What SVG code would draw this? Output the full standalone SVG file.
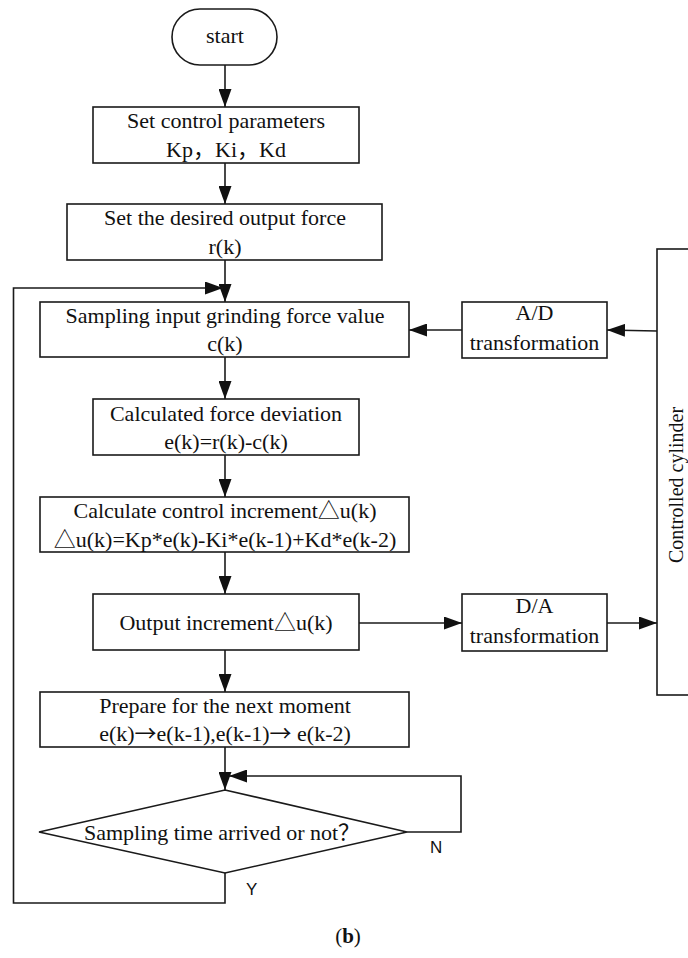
<svg xmlns="http://www.w3.org/2000/svg" width="688" height="958" viewBox="0 0 688 958">
<style>
.box{fill:#fff;stroke:#1a1a1a;stroke-width:1.6}
.ln{fill:none;stroke:#1a1a1a;stroke-width:1.6}
.t{font-family:"Liberation Serif","Times New Roman","Noto Sans CJK SC",serif;font-size:22px;fill:#111;text-anchor:middle}
.cjk{font-family:"Noto Sans CJK SC",sans-serif}
.s{font-family:"Liberation Sans",Arial,sans-serif;font-size:17px;fill:#111}
</style>
<defs>
<marker id="ah" markerUnits="userSpaceOnUse" markerWidth="18" markerHeight="13" refX="18" refY="6.5" orient="auto">
<path d="M0,0 L18,6.5 L0,13 z" fill="#111"/>
</marker>
</defs>
<rect width="688" height="958" fill="#fff"/>
<g id="connectors">
<line class="ln" x1="225" y1="65" x2="225" y2="107" marker-end="url(#ah)"/>
<line class="ln" x1="225" y1="163" x2="225" y2="204" marker-end="url(#ah)"/>
<line class="ln" x1="225" y1="260" x2="225" y2="302" marker-end="url(#ah)"/>
<line class="ln" x1="225" y1="357" x2="225" y2="399" marker-end="url(#ah)"/>
<line class="ln" x1="225" y1="455" x2="225" y2="497" marker-end="url(#ah)"/>
<line class="ln" x1="225" y1="552" x2="225" y2="594" marker-end="url(#ah)"/>
<line class="ln" x1="225" y1="650" x2="225" y2="692" marker-end="url(#ah)"/>
<line class="ln" x1="225" y1="747" x2="225" y2="790" marker-end="url(#ah)"/>
<polyline class="ln" points="225,873 225,903 13.5,903 13.5,288 223,288" marker-end="url(#ah)"/>
<polyline class="ln" points="407,832 461,832 461,776 229,776" marker-end="url(#ah)"/>
<line class="ln" x1="657" y1="331" x2="607" y2="330" marker-end="url(#ah)"/>
<line class="ln" x1="462" y1="330" x2="409" y2="330" marker-end="url(#ah)"/>
<line class="ln" x1="359" y1="623" x2="462" y2="623" marker-end="url(#ah)"/>
<line class="ln" x1="607" y1="623" x2="657" y2="623" marker-end="url(#ah)"/>
<text class="s" x="430" y="853">N</text>
<text class="s" x="246" y="895">Y</text>
</g>
<g id="start">
<rect class="box" x="172" y="9" width="105" height="56" rx="28" ry="28"/>
<text class="t" x="225" y="43">start</text>
</g>
<g id="set-params">
<rect class="box" x="93" y="107" width="266" height="56"/>
<text class="t" x="226" y="128">Set control parameters</text>
<text class="t" x="226" y="157">Kp，Ki，Kd</text>
</g>
<g id="set-force">
<rect class="box" x="67" y="204" width="315" height="56"/>
<text class="t" x="225" y="225">Set the desired output force</text>
<text class="t" x="225" y="254">r(k)</text>
</g>
<g id="sampling">
<rect class="box" x="40" y="302" width="369" height="55"/>
<text class="t" x="225" y="323">Sampling input grinding force value</text>
<text class="t" x="225" y="351">c(k)</text>
</g>
<g id="deviation">
<rect class="box" x="93" y="399" width="266" height="56"/>
<text class="t" x="226" y="421">Calculated force deviation</text>
<text class="t" x="226" y="449">e(k)=r(k)-c(k)</text>
</g>
<g id="increment">
<rect class="box" x="40" y="497" width="369" height="55"/>
<text class="t" x="225" y="518">Calculate control increment△u(k)</text>
<text class="t" x="225" y="547">△u(k)=Kp*e(k)-Ki*e(k-1)+Kd*e(k-2)</text>
</g>
<g id="output">
<rect class="box" x="93" y="594" width="266" height="56"/>
<text class="t" x="226" y="630">Output increment△u(k)</text>
</g>
<g id="prepare">
<rect class="box" x="40" y="692" width="369" height="55"/>
<text class="t" x="225" y="713">Prepare for the next moment</text>
<text class="t" x="225" y="741">e(k)<tspan class="cjk">→</tspan>e(k-1),e(k-1)<tspan class="cjk">→</tspan> e(k-2)</text>
</g>
<g id="decision">
<polygon class="box" points="225,790 407,832 225,873 39,832"/>
<text class="t" x="222" y="840">Sampling time arrived or not<tspan class="cjk">？</tspan></text>
</g>
<g id="ad">
<rect class="box" x="462" y="302" width="145" height="56"/>
<text class="t" x="534.5" y="320">A/D</text>
<text class="t" x="534.5" y="350">transformation</text>
</g>
<g id="da">
<rect class="box" x="462" y="594" width="145" height="57"/>
<text class="t" x="534.5" y="613">D/A</text>
<text class="t" x="534.5" y="643">transformation</text>
</g>
<g id="cylinder">
<rect class="box" x="657" y="249" width="40" height="446"/>
<text class="t" style="font-size:20px" transform="translate(683,485) rotate(-90)">Controlled cylinder</text>
</g>
<text x="348" y="943" style="font-family:'Liberation Serif',serif;font-size:21px;fill:#111;text-anchor:middle">(<tspan font-weight="bold">b</tspan>)</text>
</svg>
